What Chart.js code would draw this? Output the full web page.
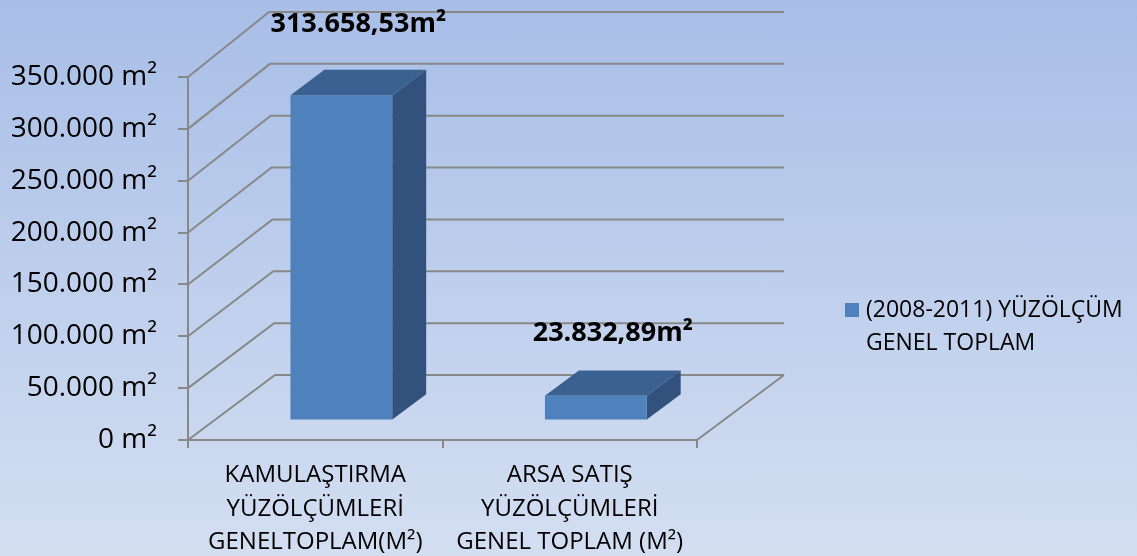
<!DOCTYPE html>
<html lang="tr">
<head>
<meta charset="utf-8">
<title>Yüzölçüm Genel Toplam</title>
<script src="https://cdn.jsdelivr.net/npm/chart.js@4/dist/chart.umd.min.js"></script>
<style>
  html, body { margin: 0; padding: 0; }
  body {
    width: 1137px; height: 556px; overflow: hidden;
    background: linear-gradient(to bottom, #a8bee7 0%, #bccdec 45%, #d3def1 100%);
  }
  #chart { display: block; }
</style>
</head>
<body>
<canvas id="chart" width="1137" height="556"></canvas>
<script>
// Categories (multi-line axis labels)
const categories = [
  ['KAMULAŞTIRMA', 'YÜZÖLÇÜMLERİ', 'GENELTOPLAM(M²)'],
  ['ARSA SATIŞ', 'YÜZÖLÇÜMLERİ', 'GENEL TOPLAM (M²)']
];
// Area totals in m²
const areaValues = [313658.53, 23832.89];
// Series name, shown on two lines in the legend
const seriesLabel = ['(2008-2011) YÜZÖLÇÜM', 'GENEL TOPLAM'];
// Value axis
const yMin = 0;
const yMax = 350000;
const yStep = 50000;

const FONT = '"Open Sans", "DejaVu Sans", sans-serif';
const LINE = '#888888';
const BAR_FRONT = '#4f81bd';
const BAR_TOP = '#3b6190';
const BAR_SIDE = '#32527d';

// 1.234.567,89 style formatting
function trNumber(v, decimals) {
  const parts = v.toFixed(decimals).split('.');
  const intPart = parts[0].replace(/\B(?=(\d{3})+(?!\d))/g, '.');
  return parts[1] ? intPart + ',' + parts[1] : intPart;
}

// Excel-like 3D walls, bars, value labels and legend
const box3d = {
  id: 'box3d',
  beforeDatasetsDraw(chart, args, opts) {
    const { ctx, chartArea: a, scales: { y } } = chart;
    ctx.save();
    ctx.strokeStyle = LINE;
    ctx.lineWidth = opts.lineWidth;
    ctx.lineCap = 'butt';
    for (let v = yMin; v <= yMax; v += yStep) {
      const py = y.getPixelForValue(v);
      const frac = (v - yMin) / (yMax - yMin);
      const bx = a.left + opts.dx - opts.skew * frac;
      ctx.beginPath();
      ctx.moveTo(a.left, py);
      ctx.lineTo(bx, py + opts.dy);
      ctx.lineTo(a.right + opts.dx, py + opts.dy);
      ctx.stroke();
    }
    // right edge of the floor
    ctx.beginPath();
    ctx.moveTo(a.right, a.bottom);
    ctx.lineTo(a.right + opts.dx, a.bottom + opts.dy);
    ctx.stroke();
    ctx.restore();
  },
  beforeDatasetDraw() {
    return false; // bars are drawn in 3D below
  },
  afterDatasetsDraw(chart, args, opts) {
    const { ctx } = chart;
    const meta = chart.getDatasetMeta(0);
    const sx = opts.dx * opts.front, sy = opts.dy * opts.front;
    const ddx = opts.dx * opts.depth, ddy = opts.dy * opts.depth;
    ctx.save();
    meta.data.forEach((el, i) => {
      const l = el.x - el.width / 2 + sx;
      const r = el.x + el.width / 2 + sx;
      const t = el.y + sy;
      const b = el.base + sy;
      // side
      ctx.fillStyle = BAR_SIDE;
      ctx.beginPath();
      ctx.moveTo(r, t); ctx.lineTo(r + ddx, t + ddy);
      ctx.lineTo(r + ddx, b + ddy); ctx.lineTo(r, b);
      ctx.closePath(); ctx.fill();
      // top
      ctx.fillStyle = BAR_TOP;
      ctx.beginPath();
      ctx.moveTo(l, t); ctx.lineTo(l + ddx, t + ddy);
      ctx.lineTo(r + ddx, t + ddy); ctx.lineTo(r, t);
      ctx.closePath(); ctx.fill();
      // front
      ctx.fillStyle = BAR_FRONT;
      ctx.fillRect(l, t, r - l, b - t);

      // value label
      const value = chart.data.datasets[0].data[i];
      ctx.fillStyle = '#000';
      ctx.font = 'bold 27px ' + FONT;
      ctx.textAlign = 'center';
      ctx.textBaseline = 'middle';
      ctx.fillText(trNumber(value, 2) + 'm²', el.x + sx + ddx / 2, t + ddy - opts.labelLift[i]);
    });

    // legend
    const lg = opts.legend;
    ctx.fillStyle = BAR_FRONT;
    ctx.fillRect(lg.x, lg.y, lg.box, lg.box);
    ctx.fillStyle = '#000';
    ctx.font = '23px ' + FONT;
    ctx.textAlign = 'left';
    ctx.textBaseline = 'middle';
    seriesLabel.forEach((line, k) => {
      ctx.fillText(line, lg.x + lg.box + 7, lg.y + lg.box / 2 + k * lg.lineHeight);
    });
    ctx.restore();
  }
};

new Chart(document.getElementById('chart'), {
  type: 'bar',
  data: {
    labels: categories,
    datasets: [{
      label: seriesLabel.join(' '),
      data: areaValues,
      backgroundColor: BAR_FRONT,
      categoryPercentage: 1,
      barPercentage: 0.4
    }]
  },
  options: {
    responsive: false,
    animation: false,
    events: [],
    layout: { padding: { top: 77, right: 440, left: 0, bottom: 0 } },
    plugins: {
      legend: { display: false },
      tooltip: { enabled: false },
      box3d: {
        dx: 87, dy: -65, skew: 6, lineWidth: 2,
        front: 0.3, depth: 0.39,
        labelLift: [46, 37],
        legend: { x: 845, y: 303, box: 14, lineHeight: 33 }
      }
    },
    scales: {
      x: {
        afterFit(scale) { scale.height = 116; },
        grid: {
          offset: true,
          drawOnChartArea: false,
          color: LINE,
          lineWidth: 2,
          tickLength: 8
        },
        border: { display: true, color: LINE, width: 2 },
        ticks: {
          color: '#000',
          padding: 11,
          maxRotation: 0,
          autoSkip: false,
          font: { family: FONT, size: 24, lineHeight: 1.38 }
        }
      },
      y: {
        min: yMin,
        max: yMax,
        afterFit(scale) { scale.width = 188; },
        grid: {
          drawOnChartArea: false,
          color: LINE,
          lineWidth: 2,
          tickLength: 10
        },
        border: { display: true, color: LINE, width: 2 },
        ticks: {
          stepSize: yStep,
          color: '#000',
          padding: 21,
          font: { family: FONT, size: 28 },
          callback: (v) => trNumber(v, 0) + ' m²'
        }
      }
    }
  },
  plugins: [box3d]
});
</script>
</body>
</html>
